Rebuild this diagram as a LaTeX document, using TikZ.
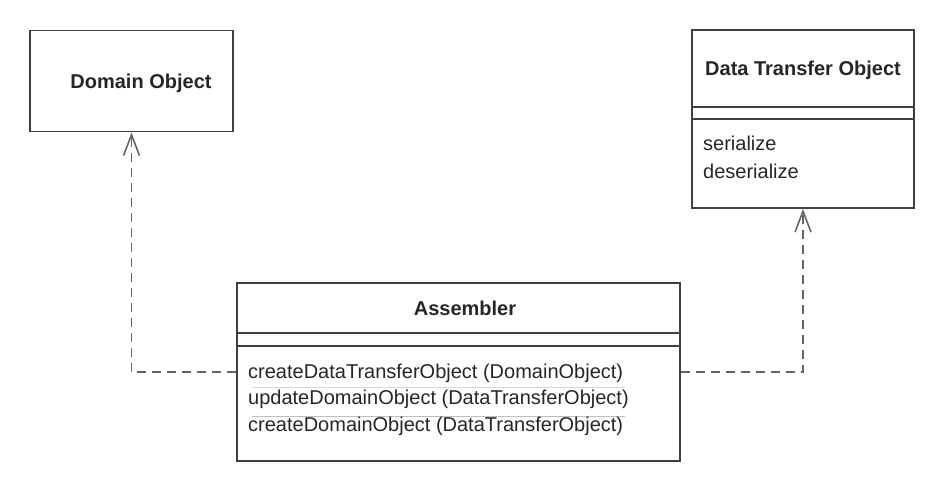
\documentclass[tikz,border=0pt]{standalone}
\usepackage{fontspec}
\setmainfont{Liberation Sans}
\usepackage{tikz}
\usetikzlibrary{arrows.meta,positioning}

\tikzset{
  classbox/.style={draw=black!75, line width=1.8pt, rectangle, inner sep=0pt},
  sepline/.style={draw=black!75, line width=1.8pt},
  depend/.style={draw=black!60, line width=1.8pt, dash pattern=on 9pt off 6pt,
    -{Straight Barb[length=21pt,width=16pt,line width=1.6pt]}},
  title/.style={anchor=base, font=\fontsize{20}{24}\selectfont\bfseries, text=black!85},
  member/.style={anchor=base west, font=\fontsize{20}{24}\selectfont, text=black!85, inner sep=0pt},
  faint/.style={draw=black!15, line width=0.8pt}
}

\begin{document}
\begin{tikzpicture}[x=1pt, y=-1pt]
\useasboundingbox (0,0) rectangle (944,488);
% classes
\node[classbox, minimum width=203pt, minimum height=101pt] (domain) at (131.5,81) {};
\node[title] (domaintitle) at (141,88) {Domain Object};
\node[classbox, minimum width=222pt, minimum height=178pt] (dto) at (803,119) {};
\node[title] (dtotitle) at (803,75) {Data Transfer Object};
\draw[sepline] (692,107) -- (914,107);
\draw[sepline] (692,119) -- (914,119);
\node[member] (ser) at (703,150) {serialize};
\node[member] (deser) at (703,178) {deserialize};
\node[classbox, minimum width=443pt, minimum height=178pt] (asm) at (458.5,372) {};
\node[title] (asmtitle) at (465,315) {Assembler};
\draw[sepline] (237,333) -- (680,333);
\draw[sepline] (237,346) -- (680,346);
\draw[faint] (252,387) -- (625,387);
\draw[faint, draw=black!25] (252,416) -- (625,416);
\node[member] (m1) at (248,378) {createDataTransferObject (DomainObject)};
\node[member] (m2) at (248,404) {updateDomainObject (DataTransferObject)};
\node[member] (m3) at (248,431) {createDomainObject (DataTransferObject)};
% dependencies
\draw[depend] (asm.west) -| (domain.south);
\draw[depend] (asm.east) -| (dto.south);
\end{tikzpicture}
\end{document}
